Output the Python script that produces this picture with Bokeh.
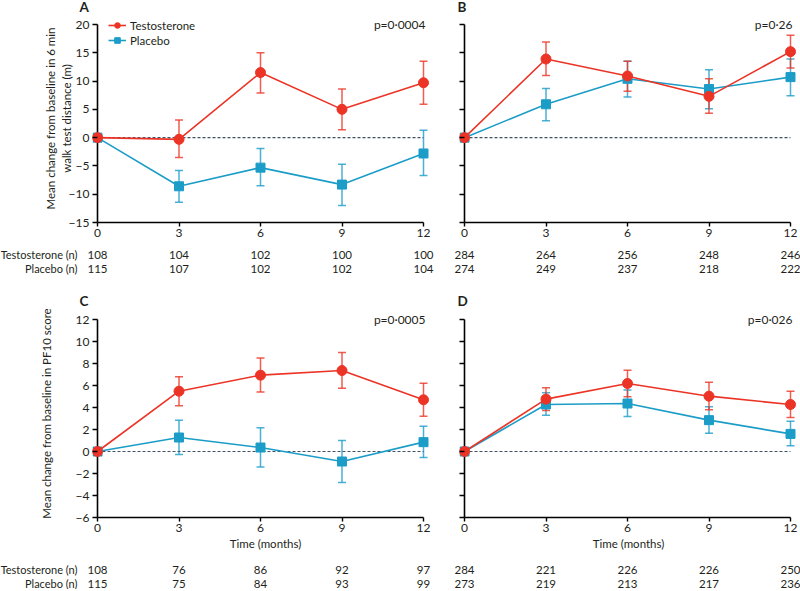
from bokeh.plotting import figure
from bokeh.models import (Range1d, FixedTicker, Whisker, ColumnDataSource, Label,
                          Legend, LegendItem, TeeHead)
from bokeh.layouts import column, row
from bokeh.core.properties import value
from bokeh.embed import file_html
from bokeh.resources import INLINE

# ---------------- data ----------------
months = [0, 3, 6, 9, 12]

# Panel A: 6-min walk test
a_t = [0, -0.3, 11.5, 5.0, 9.7]
a_t_hi = [0, 3.1, 15.0, 8.6, 13.5]
a_t_lo = [0, -3.5, 7.9, 1.4, 5.9]
a_p = [0, -8.6, -5.3, -8.3, -2.8]
a_p_hi = [0, -5.8, -1.9, -4.7, 1.3]
a_p_lo = [0, -11.4, -8.5, -12.0, -6.7]
a_n_t = [108, 104, 102, 100, 100]
a_n_p = [115, 107, 102, 102, 104]
a_pval = "p=0·0004"

# Panel B
b_t = [0, 13.9, 10.9, 7.3, 15.2]
b_t_hi = [0, 16.9, 13.5, 10.4, 18.1]
b_t_lo = [0, 11.0, 8.2, 4.3, 12.3]
b_p = [0, 5.9, 10.4, 8.6, 10.7]
b_p_hi = [0, 8.7, 13.5, 12.0, 13.9]
b_p_lo = [0, 3.0, 7.2, 5.1, 7.4]
b_n_t = [284, 264, 256, 248, 246]
b_n_p = [274, 249, 237, 218, 222]
b_pval = "p=0·26"

# Panel C: PF10 score
c_t = [0, 5.48, 6.94, 7.36, 4.7]
c_t_hi = [0, 6.8, 8.5, 9.0, 6.2]
c_t_lo = [0, 4.15, 5.4, 5.76, 3.2]
c_p = [0, 1.27, 0.36, -0.91, 0.85]
c_p_hi = [0, 2.85, 2.15, 1.0, 2.3]
c_p_lo = [0, -0.27, -1.42, -2.82, -0.55]
c_n_t = [108, 76, 86, 92, 97]
c_n_p = [115, 75, 84, 93, 99]
c_pval = "p=0·0005"

# Panel D
d_t = [0, 4.76, 6.18, 5.03, 4.27]
d_t_hi = [0, 5.8, 7.39, 6.3, 5.48]
d_t_lo = [0, 3.73, 4.97, 3.79, 3.09]
d_p = [0, 4.27, 4.36, 2.85, 1.6]
d_p_hi = [0, 5.33, 5.58, 4.06, 2.76]
d_p_lo = [0, 3.3, 3.18, 1.67, 0.52]
d_n_t = [284, 221, 226, 226, 250]
d_n_p = [273, 219, 213, 217, 236]
d_pval = "p=0·026"

ticks_top = [-15, -10, -5, 0, 5, 10, 15, 20]
ticks_bot = [-6, -4, -2, 0, 2, 4, 6, 8, 10, 12]

series_names = ["Testosterone", "Placebo"]
row_labels = ["Testosterone (n)", "Placebo (n)"]

# ---------------- style / layout ----------------
RED = "#ec3426"
BLUE = "#1b9dc8"
FONT = "Lato"
TXT = "#231f20"
ZERO = "#3f5266"

# horizontal geometry (pixels)
LEFT = dict(width=440, frame_left=92, zero=97, twelve=423, frame_right=438, letter_dx=-18)
RIGHT = dict(width=360, frame_left=19, zero=24, twelve=350, frame_right=357, letter_dx=-7)
# vertical geometry (pixels)
TOP = dict(head_h=14, letter_y=6, pad_top=10, fh=208, mbb=22, table_h=44, rows=(10, 24))
BOT = dict(head_h=21, letter_y=12, pad_top=10, fh=208, mbb=40, table_h=32, rows=(12, 26))


def minus(v):
    return str(v).replace("-", "\u2212")


def x_mapping(hg):
    return (hg["twelve"] - hg["zero"]) / (months[-1] - months[0])


def make_panel(t, t_hi, t_lo, p, p_hi, p_lo, pval, ticks, hg, vg,
               ylabel=None, ylabel_standoff=4, xlabel=None, legend=False):
    ymin, ymax = ticks[0], ticks[-1]
    ppm = x_mapping(hg)
    x0 = months[0] - (hg["zero"] - hg["frame_left"]) / ppm
    x1 = months[-1] + (hg["frame_right"] - hg["twelve"]) / ppm
    fw = hg["frame_right"] - hg["frame_left"]
    ppu = (vg["fh"] - vg["pad_top"]) / (ymax - ymin)
    y1 = ymax + vg["pad_top"] / ppu
    fig = figure(x_range=Range1d(x0, x1), y_range=Range1d(ymin, y1),
                 frame_width=fw, frame_height=vg["fh"],
                 min_border_left=hg["frame_left"], min_border_right=hg["width"] - hg["frame_right"],
                 min_border_top=0, min_border_bottom=vg["mbb"],
                 output_backend="svg", toolbar_location=None,
                 background_fill_color=None, border_fill_color=None)
    fig.outline_line_color = None
    fig.grid.visible = False

    # axes
    fig.yaxis.ticker = FixedTicker(ticks=ticks)
    fig.yaxis.axis_line_color = None
    fig.yaxis.major_tick_in = hg["zero"] - hg["frame_left"]
    fig.yaxis.major_tick_out = 0
    fig.yaxis.major_label_standoff = 3
    fig.yaxis.major_label_overrides = {v: minus(v) for v in ticks}
    fig.xaxis.bounds = (months[0], months[-1])
    fig.xaxis.ticker = FixedTicker(ticks=months)
    fig.xaxis.axis_line_color = "black"
    fig.xaxis.axis_line_width = 1.6
    fig.xaxis.major_tick_out = 4
    fig.xaxis.major_tick_in = 0
    fig.xaxis.major_label_standoff = 2
    for ax in (fig.xaxis, fig.yaxis):
        ax.major_tick_line_color = "black"
        ax.major_tick_line_width = 1.4
        ax.minor_tick_line_color = None
        ax.major_label_text_font = FONT
        ax.major_label_text_font_size = "12px"
        ax.major_label_text_color = TXT
        ax.axis_label_text_font = FONT
        ax.axis_label_text_font_size = "11.5px"
        ax.axis_label_text_font_style = "normal"
        ax.axis_label_text_color = TXT
    if ylabel is None:
        fig.yaxis.major_label_text_font_size = "0px"
        fig.yaxis.major_label_text_color = None
    else:
        fig.yaxis.axis_label = ylabel
        fig.yaxis.axis_label_standoff = ylabel_standoff
    if xlabel:
        fig.xaxis.axis_label = xlabel
        fig.xaxis.axis_label_standoff = 2

    # y axis line at month 0 and zero reference line
    fig.segment(x0=[months[0]], x1=[months[0]], y0=[ymin], y1=[ymax],
                line_color="black", line_width=1.6)
    fig.segment(x0=[months[0]], x1=[months[-1]], y0=[0], y1=[0],
                line_color=ZERO, line_dash="3 2", line_width=1.2)

    rend = {}
    for name, vals, hi, lo, col, marker, size in (
            (series_names[1], p, p_hi, p_lo, BLUE, "square", 9),
            (series_names[0], t, t_hi, t_lo, RED, "circle", 10)):
        src = ColumnDataSource(dict(x=months[1:], y=vals[1:], hi=hi[1:], lo=lo[1:]))
        w = Whisker(source=src, base="x", upper="hi", lower="lo",
                    line_color=col, line_width=1.5, line_alpha=0.8,
                    upper_head=TeeHead(size=8, line_color=col, line_width=1.5, line_alpha=0.8),
                    lower_head=TeeHead(size=8, line_color=col, line_width=1.5, line_alpha=0.8))
        fig.add_layout(w)
        ln = fig.line(months, vals, line_color=col, line_width=1.6)
        sc = fig.scatter(months, vals, marker=marker, size=size, fill_color=col,
                         line_color=col)
        rend[name] = [ln, sc]

    if legend:
        lg = Legend(items=[LegendItem(label=series_names[0], renderers=rend[series_names[0]]),
                           LegendItem(label=series_names[1], renderers=rend[series_names[1]])],
                    location=(16, vg["fh"] - 33), orientation="vertical",
                    border_line_color=None, background_fill_alpha=0,
                    padding=0, margin=0, spacing=1, glyph_width=18, glyph_height=14,
                    label_standoff=4, label_text_font=FONT, label_text_font_size="11.5px",
                    label_text_color=TXT, label_height=14)
        fig.add_layout(lg)

    fig.add_layout(Label(x=months[-1], y=ymax, text=pval, text_align="right",
                         text_baseline="middle", x_offset=2, text_font=FONT,
                         text_font_size="12px", text_color=TXT))
    return fig


def strip(hg, h):
    """A frame-only figure sharing the panel's horizontal mapping."""
    ppm = x_mapping(hg)
    x0 = months[0] - hg["zero"] / ppm
    x1 = x0 + hg["width"] / ppm
    s = figure(x_range=Range1d(x0, x1), y_range=Range1d(h, 0),
               width=hg["width"], height=h, min_border=0,
               x_axis_location=None, y_axis_location=None,
               output_backend="svg", toolbar_location=None,
               background_fill_color=None, border_fill_color=None)
    s.outline_line_color = None
    s.grid.visible = False
    return s


def make_header(letter, hg, vg):
    s = strip(hg, vg["head_h"])
    s.text(x=[months[0]], y=[vg["letter_y"]], text=[letter], x_offset=hg["letter_dx"],
           text_align="left", text_baseline="middle", text_font=value(FONT),
           text_font_size="13.5px", text_font_style="bold", text_color=TXT)
    return s


def make_table(n_t, n_p, hg, vg, with_labels):
    t = strip(hg, vg["table_h"])
    for vals, ry in ((n_t, vg["rows"][0]), (n_p, vg["rows"][1])):
        t.text(x=months, y=[ry] * len(months), text=[str(v) for v in vals],
               text_align="center", text_baseline="middle", text_font=value(FONT),
               text_font_size="11.5px", text_color=TXT)
    if with_labels:
        t.text(x=[months[0]] * 2, y=list(vg["rows"]), text=row_labels, x_offset=-20,
               text_align="right", text_baseline="middle", text_font=value(FONT),
               text_font_size="11px", text_color=TXT)
    return t


hA, hB = make_header("A", LEFT, TOP), make_header("B", RIGHT, TOP)
hC, hD = make_header("C", LEFT, BOT), make_header("D", RIGHT, BOT)

pA = make_panel(a_t, a_t_hi, a_t_lo, a_p, a_p_hi, a_p_lo, a_pval, ticks_top, LEFT, TOP,
                ylabel="Mean change from baseline in 6 min\nwalk test distance (m)",
                ylabel_standoff=-7, legend=True)
pB = make_panel(b_t, b_t_hi, b_t_lo, b_p, b_p_hi, b_p_lo, b_pval, ticks_top, RIGHT, TOP)
pC = make_panel(c_t, c_t_hi, c_t_lo, c_p, c_p_hi, c_p_lo, c_pval, ticks_bot, LEFT, BOT,
                ylabel="Mean change from baseline in PF10 score", ylabel_standoff=20,
                xlabel="Time (months)")
pD = make_panel(d_t, d_t_hi, d_t_lo, d_p, d_p_hi, d_p_lo, d_pval, ticks_bot, RIGHT, BOT,
                xlabel="Time (months)")

tA = make_table(a_n_t, a_n_p, LEFT, TOP, True)
tB = make_table(b_n_t, b_n_p, RIGHT, TOP, False)
tC = make_table(c_n_t, c_n_p, LEFT, BOT, True)
tD = make_table(d_n_t, d_n_p, RIGHT, BOT, False)

layout = column(row(hA, hB), row(pA, pB), row(tA, tB),
                row(hC, hD), row(pC, pD), row(tC, tD), spacing=0)
open("out.html", "w").write(file_html(layout, INLINE))
